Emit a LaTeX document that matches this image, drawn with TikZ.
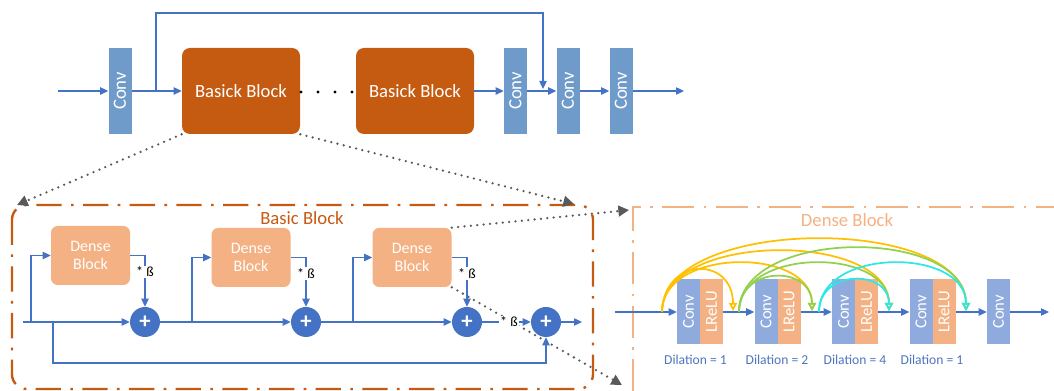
\documentclass[tikz,border=0pt]{standalone}
\usepackage{fontspec}
\setmainfont{Carlito}
\usetikzlibrary{arrows.meta}
\definecolor{convtop}{HTML}{6F9BCB}
\definecolor{bbfill}{HTML}{C55A11}
\definecolor{bline}{HTML}{4472C4}
\definecolor{dfill}{HTML}{F4B183}
\definecolor{dconvc}{HTML}{8FAADC}
\definecolor{gdotc}{HTML}{595959}
\definecolor{cyel}{HTML}{FFC000}
\definecolor{cgrn}{HTML}{92D050}
\definecolor{ccyn}{HTML}{2EE6E6}
\definecolor{dilc}{HTML}{4F74C0}
\begin{document}
\begin{tikzpicture}[x=0.75pt,y=-0.75pt,
  topconv/.style={fill=convtop, minimum width=17.25pt, minimum height=64.5pt, text=white, inner sep=0pt, font=\fontsize{14}{14}\selectfont},
  bbstyle/.style={fill=bbfill, rounded corners=6pt, minimum width=88.5pt, minimum height=64.5pt, text=white, inner sep=0pt, font=\fontsize{14}{14}\selectfont},
  dense/.style={fill=dfill, rounded corners=5pt, minimum width=59.25pt, minimum height=44.25pt, text=white, inner sep=0pt, align=center, font=\fontsize{12}{14}\selectfont},
  plus/.style={circle, fill=bline, minimum size=22.5pt, inner sep=0pt, text=white, font=\fontsize{17}{17}\selectfont\bfseries},
  dconv/.style={fill=dconvc, minimum width=17.25pt, minimum height=48.75pt, text=white, inner sep=0pt, font=\fontsize{12.5}{12.5}\selectfont},
  lrelu/.style={fill=dfill, minimum width=17.25pt, minimum height=48.75pt, text=white, inner sep=0pt, font=\fontsize{12.5}{12.5}\selectfont},
  barrow/.style={draw=bline, line width=0.9pt, -{Triangle[length=6pt,width=5.5pt]}},
  gdot/.style={draw=gdotc, line width=1.9pt, line cap=round, dash pattern=on 0pt off 4.8pt, -{Triangle[length=8pt,width=8pt]}},
  lbl/.style={fill=white, inner sep=1pt, font=\fontsize{10.5}{10.5}\selectfont},
  dil/.style={text=dilc, inner sep=0pt, font=\fontsize{10.2}{11}\selectfont},
  curvey/.style={draw=cyel, line width=1.3pt, -{Triangle[open,length=6pt,width=6pt]}},
  curveg/.style={draw=cgrn, line width=1.3pt, -{Triangle[open,length=6pt,width=6pt]}},
  curvec/.style={draw=ccyn, line width=1.3pt, -{Triangle[open,length=6pt,width=6pt]}},
  bframe/.style={draw=bbfill, line width=1.8pt, dash pattern=on 19pt off 7pt on 2pt off 7pt},
  dframe/.style={draw=dfill, line width=1.8pt, dash pattern=on 24pt off 7pt on 2pt off 7pt}
]
\useasboundingbox (0,0) rectangle (1054,391);

% ---------- top row ----------
\node[topconv] (conv1) at (120,91) {\rotatebox{90}{Conv}};
\node[bbstyle] (bb1) at (241,91) {Basick Block};
\node[bbstyle] (bb2) at (415,91) {Basick Block};
\node[topconv] (conv2) at (515.5,91) {\rotatebox{90}{Conv}};
\node[topconv] (conv3) at (568,91) {\rotatebox{90}{Conv}};
\node[topconv] (conv4) at (621,91) {\rotatebox{90}{Conv}};
\coordinate (in0) at (58,91);
\coordinate (out0) at (684,91);
\coordinate (sk) at (156,91);
\coordinate (skend) at (543,89);
\draw[barrow] (in0) -- (conv1);
\draw[barrow] (conv1) -- (bb1);
\draw[barrow] (sk) -- (156,13) -| (skend);
\draw[barrow] (bb2) -- (conv2);
\draw[barrow] (conv2) -- (conv3);
\draw[barrow] (conv3) -- (conv4);
\draw[barrow] (conv4) -- (out0);
\foreach \x in {301,318,335,352} \fill (\x,92) circle (1.3pt);

% ---------- frames ----------
\draw[bframe, rounded corners=11pt] (12,205) rectangle (593,389);
\draw[dframe] (633,391) -- (633,207) -- (1054,207);
\node[text=bbfill, font=\fontsize{14}{14}\selectfont] (lbb) at (302,218) {Basic Block};
\node[text=dfill, font=\fontsize{14}{14}\selectfont] (ldb) at (847,220) {Dense Block};

% ---------- basic block internals ----------
\node[dense] (db1) at (90.5,255.5) {Dense\\Block};
\node[dense] (db2) at (251,257.5) {Dense\\Block};
\node[dense] (db3) at (412,257.5) {Dense\\Block};
\node[plus] (p1) at (145,322) {+};
\node[plus] (p2) at (306,322) {+};
\node[plus] (p3) at (467,322) {+};
\node[plus] (p4) at (546,322) {+};

% ---------- dotted projections ----------
\coordinate (t1) at (17,205);
\coordinate (t2) at (574,204);
\coordinate (t3) at (629,210);
\coordinate (t4) at (622,385);
\draw[gdot] (bb1.south west) -- (t1);
\draw[gdot] (bb1.south east) -- (t2);
\draw[gdot] (db3.north east) -- (t3);
\draw[gdot] (db3.south east) -- (t4);

\coordinate (bin) at (23,322);
\coordinate (br1) at (31,322);
\coordinate (br0) at (53,322);
\coordinate (br2) at (192,322);
\coordinate (br3) at (353,322);
\coordinate (bout) at (582,322);
\draw[barrow] (bin) -- (p1);
\draw[barrow] (br1) |- (db1.west);
\draw[barrow] (br0) -- (53,363) -| (p4.south);
\draw[barrow] (db1.east) -| node[lbl, pos=0.66] {* ß} (p1.north);
\draw[barrow] (p1) -- (p2);
\draw[barrow] (br2) |- (db2.west);
\draw[barrow] (db2.east) -| node[lbl, pos=0.66] {* ß} (p2.north);
\draw[barrow] (p2) -- (p3);
\draw[barrow] (br3) |- (db3.west);
\draw[barrow] (db3.east) -| node[lbl, pos=0.66] {* ß} (p3.north);
\draw[barrow] (p3) -- node[lbl, pos=0.55] {* ß} (p4);
\draw[barrow] (p4) -- (bout);

% ---------- dense block internals ----------
\node[dconv] (c1) at (688.5,312) {\rotatebox{90}{Conv}};
\node[lrelu] (l1) at (711.5,312) {\rotatebox{90}{LReLU}};
\node[dconv] (c2) at (766,312) {\rotatebox{90}{Conv}};
\node[lrelu] (l2) at (789,312) {\rotatebox{90}{LReLU}};
\node[dconv] (c3) at (843.5,312) {\rotatebox{90}{Conv}};
\node[lrelu] (l3) at (866.5,312) {\rotatebox{90}{LReLU}};
\node[dconv] (c4) at (921,312) {\rotatebox{90}{Conv}};
\node[lrelu] (l4) at (944,312) {\rotatebox{90}{LReLU}};
\node[dconv] (c5) at (998.5,312) {\rotatebox{90}{Conv}};
\coordinate (din) at (615,312);
\coordinate (dout) at (1049,312);
\draw[barrow] (din) -- (c1);
\draw[barrow] (l1) -- (c2);
\draw[barrow] (l2) -- (c3);
\draw[barrow] (l3) -- (c4);
\draw[barrow] (l4) -- (c5);
\draw[barrow] (c5) -- (dout);
\node[dil] (d1) at (695.5,360) {Dilation = 1};
\node[dil] (d2) at (777,360) {Dilation = 2};
\node[dil] (d3) at (855,360) {Dilation = 4};
\node[dil] (d4) at (932,360) {Dilation = 1};

\coordinate (s0) at (662,312);
\coordinate (s1) at (739,312);
\coordinate (s2) at (819,312);
\coordinate (e1) at (733,311);
\coordinate (e2) at (812,311);
\coordinate (e3) at (889,311);
\coordinate (e4) at (966,311);
\draw[curvey] (s0) .. controls (662,215) and (966,215) .. (e4);
\draw[curvey] (s0) .. controls (662,231) and (889,231) .. (e3);
\draw[curvey] (s0) .. controls (662,247) and (812,247) .. (e2);
\draw[curvey] (s0) .. controls (664,256) and (733,256) .. (e1);
\draw[curveg] (s1) .. controls (739,227) and (966,227) .. (e4);
\draw[curveg] (s1) .. controls (739,247) and (889,247) .. (e3);
\draw[curveg] (s1) .. controls (739,265) and (812,265) .. (e2);
\draw[curvec] (s2) .. controls (819,247) and (966,247) .. (e4);
\draw[curvec] (s2) .. controls (819,269) and (889,269) .. (e3);
\end{tikzpicture}
\end{document}
